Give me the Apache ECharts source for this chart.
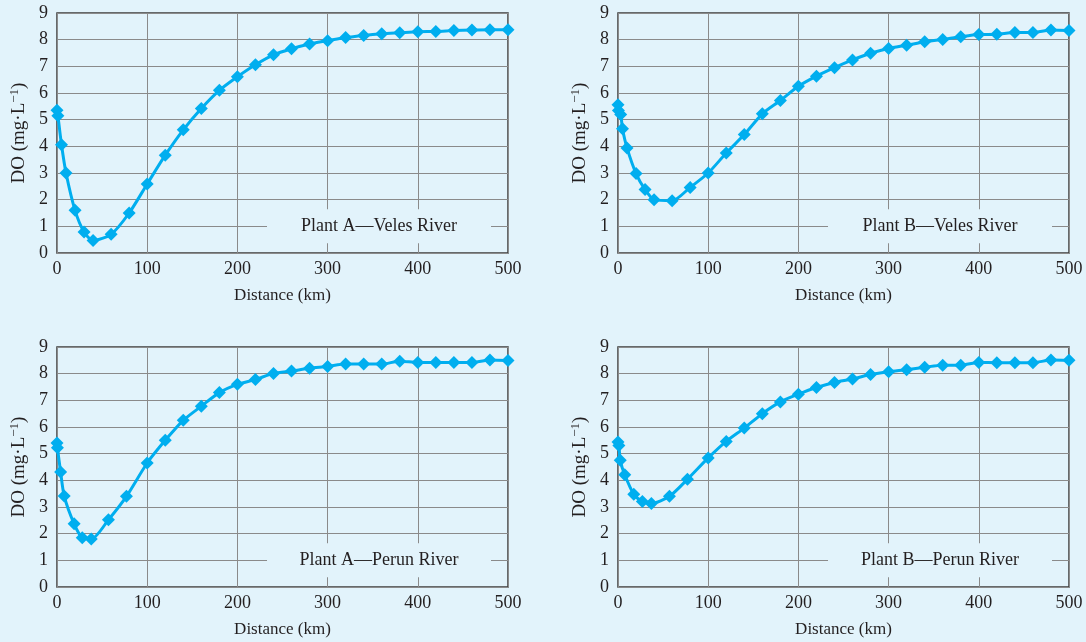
<!DOCTYPE html>
<html>
<head>
<meta charset="utf-8">
<script src="https://cdn.jsdelivr.net/npm/echarts@6/dist/echarts.min.js"></script>
<style>
  html, body { margin: 0; padding: 0; background: #e2f3fb; }
  #chart { width: 1086px; height: 642px; }
</style>
</head>
<body>
<div id="chart"></div>
<script>
// Dissolved oxygen sag profiles downstream of two plants on two rivers
const panelTitles = ['Plant A\u2014Veles River', 'Plant B\u2014Veles River', 'Plant A\u2014Perun River', 'Plant B\u2014Perun River'];

const tail = [100, 120, 140, 160, 180, 200, 220, 240, 260, 280, 300, 320, 340, 360, 380, 400, 420, 440, 460, 480, 500];

const distA_Veles = [0, 1, 5, 10, 20, 30, 40, 60, 80].concat(tail);
const doA_Veles = [5.35, 5.15, 4.06, 3.0, 1.6, 0.79, 0.47, 0.7, 1.5,
  2.59, 3.67, 4.62, 5.42, 6.1, 6.61, 7.06, 7.43, 7.66, 7.84, 7.96, 8.08, 8.16, 8.22, 8.26, 8.3, 8.31, 8.34, 8.36, 8.37, 8.37];

const distB_Veles = [0, 0.5, 3, 5, 10, 20, 30, 40, 60, 80].concat(tail);
const doB_Veles = [5.56, 5.34, 5.19, 4.66, 3.94, 2.98, 2.38, 2.0, 1.96, 2.46,
  3.0, 3.75, 4.44, 5.22, 5.72, 6.25, 6.63, 6.95, 7.24, 7.49, 7.67, 7.79, 7.92, 8.01, 8.11, 8.19, 8.2, 8.27, 8.27, 8.36, 8.34];

const distA_Perun = [0, 0.5, 4, 8, 19, 28, 38, 57, 77].concat(tail);
const doA_Perun = [5.4, 5.22, 4.31, 3.41, 2.37, 1.85, 1.8, 2.52, 3.4,
  4.65, 5.5, 6.25, 6.78, 7.29, 7.6, 7.78, 8.01, 8.1, 8.2, 8.27, 8.36, 8.36, 8.36, 8.47, 8.42, 8.42, 8.42, 8.42, 8.51, 8.49];

const distB_Perun = [0, 1, 2.5, 7.5, 17.5, 27, 37, 57, 77].concat(tail);
const doB_Perun = [5.44, 5.31, 4.75, 4.21, 3.48, 3.21, 3.13, 3.4, 4.04,
  4.84, 5.46, 5.96, 6.5, 6.94, 7.23, 7.48, 7.67, 7.8, 7.97, 8.07, 8.15, 8.24, 8.32, 8.32, 8.42, 8.41, 8.41, 8.41, 8.51, 8.5];

const panels = [
  { dist: distA_Veles, vals: doA_Veles },
  { dist: distB_Veles, vals: doB_Veles },
  { dist: distA_Perun, vals: doA_Perun },
  { dist: distB_Perun, vals: doB_Perun }
];

const FONT = 'Liberation Serif';
const TEXT = '#231f20';
const BG = '#e2f3fb';
const LINE = '#00aeef';

const gridPos = [
  { left: 57, top: 13 },
  { left: 618, top: 13 },
  { left: 57, top: 347 },
  { left: 618, top: 347 }
];

const grids = gridPos.map(p => ({
  left: p.left, top: p.top, width: 451, height: 240,
  show: true, borderColor: '#3c3c3c', borderWidth: 1.5, backgroundColor: 'transparent'
}));

const xAxes = gridPos.map((p, i) => ({
  type: 'value', gridIndex: i, min: 0, max: 500, interval: 100,
  name: 'Distance (km)', nameLocation: 'middle', nameGap: 34,
  nameTextStyle: { fontFamily: FONT, fontSize: 17, color: TEXT },
  axisLine: { show: false }, axisTick: { show: false },
  axisLabel: { fontFamily: FONT, fontSize: 18, color: TEXT, margin: 7 },
  splitLine: { show: true, lineStyle: { color: '#8a8a8a', width: 1 } }
}));

const yAxes = gridPos.map((p, i) => ({
  type: 'value', gridIndex: i, min: 0, max: 9, interval: 1,
  name: '{a|DO (mg\u00b7L}{s|\u22121}{a|)}', nameLocation: 'middle', nameGap: 27, nameRotate: 90,
  nameTextStyle: {
    rich: {
      a: { fontFamily: FONT, fontSize: 19, color: TEXT, lineHeight: 22 },
      s: { fontFamily: FONT, fontSize: 13, color: TEXT, verticalAlign: 'top', lineHeight: 13 }
    }
  },
  axisLine: { show: false }, axisTick: { show: false },
  axisLabel: { fontFamily: FONT, fontSize: 18, color: TEXT, margin: 9 },
  splitLine: { show: true, lineStyle: { color: '#8a8a8a', width: 1 } }
}));

const series = panels.map((p, i) => ({
  type: 'line', xAxisIndex: i, yAxisIndex: i,
  data: p.dist.map((d, k) => [d, p.vals[k]]),
  symbol: 'diamond', symbolSize: 13, smooth: 0.25, clip: false,
  lineStyle: { color: LINE, width: 3 },
  itemStyle: { color: LINE },
  silent: true,
  markPoint: {
    silent: true,
    symbol: 'rect', symbolSize: [224, 34],
    itemStyle: { color: BG },
    label: { show: true, fontFamily: FONT, fontSize: 18, color: TEXT, formatter: panelTitles[i] },
    data: [{ coord: [357, 1] }]
  }
}));

const chart = echarts.init(document.getElementById('chart'), null, { renderer: 'canvas' });
chart.setOption({
  backgroundColor: BG,
  animation: false,
  grid: grids,
  xAxis: xAxes,
  yAxis: yAxes,
  series: series
});
</script>
</body>
</html>
